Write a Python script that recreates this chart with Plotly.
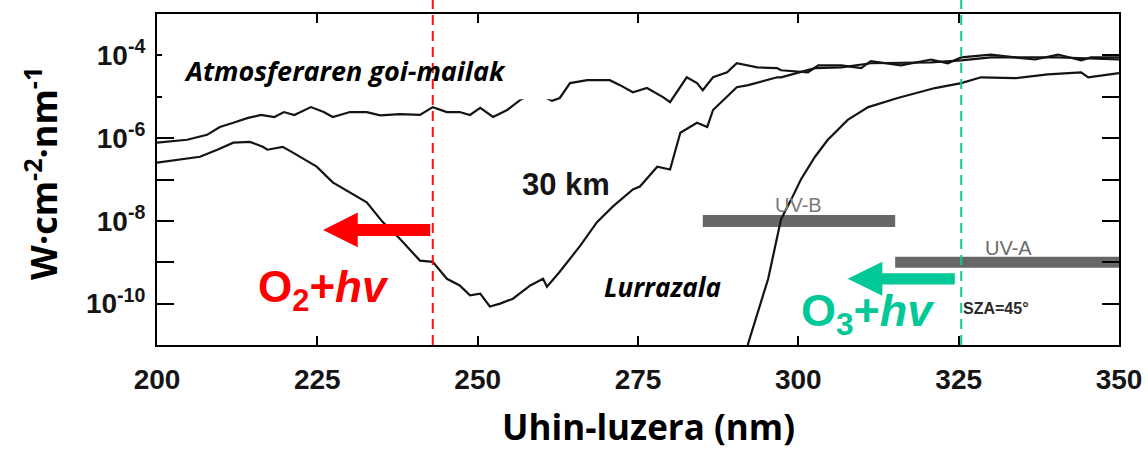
import numpy as np
import plotly.graph_objects as go

# ---------------- data ----------------
# wavelength (nm) and log10 of spectral irradiance (W cm-2 nm-1)
toa_nm = [200, 204.7, 207.8, 209.8, 211.9, 214.2, 216.2, 218.3, 219.8, 221.4,
          224.0, 226.0, 227.4, 230.1, 232.7, 234.8, 237.9, 241.0, 243.0, 245.2,
          247.2, 248.8, 250.4, 252.4, 254.6, 256.6, 258.9, 261.6, 262.8, 264.4,
          267.1, 270.6, 272.2, 274.2, 276.4, 278.9, 280.0, 281.6, 282.6, 284.2,
          285.1, 286.7, 288.9, 290.4, 293.6, 296.7, 297.3, 301.5, 303.1, 306.7,
          309.8, 311.3, 316.0, 320.7, 323.3, 325.4, 330.0, 333.8, 336.9, 340.5,
          344.1, 345.6, 350]
toa_exp = [-6.11, -6.04, -5.92, -5.73, -5.63, -5.51, -5.44, -5.49, -5.37, -5.44,
           -5.25, -5.37, -5.49, -5.37, -5.37, -5.45, -5.42, -5.44, -5.25, -5.37,
           -5.37, -5.44, -5.27, -5.49, -5.32, -5.08, -4.89, -5.10, -5.03, -4.67,
           -4.60, -4.60, -4.72, -4.89, -4.79, -5.01, -5.13, -4.77, -4.53, -4.67,
           -4.84, -4.53, -4.41, -4.19, -4.29, -4.31, -4.36, -4.41, -4.24, -4.24,
           -4.31, -4.14, -4.24, -4.10, -4.19, -4.05, -3.98, -4.05, -4.10, -3.98,
           -4.12, -4.05, -4.05]

km30_nm = [200, 203.6, 206.7, 209.4, 211.9, 214.5, 216.5, 217.2, 219.6, 221.2,
           222.3, 224.9, 227.4, 230.1, 232.7, 235.2, 237.9, 241.0, 243.0, 245.2,
           247.2, 248.8, 250.4, 251.9, 253.5, 255.5, 258.2, 260.2, 260.8, 262.8,
           264.4, 266.0, 268.6, 271.1, 274.2, 275.3, 278.0, 280.0, 281.6, 284.2,
           285.8, 286.7, 290.4, 292.2, 296.7, 297.3, 302.6, 306.7, 311.3, 320.7,
           325.4, 330.0, 340.5, 350]
km30_exp = [-6.59, -6.52, -6.45, -6.28, -6.11, -6.09, -6.21, -6.28, -6.21, -6.35,
            -6.45, -6.69, -7.07, -7.31, -7.55, -8.03, -8.44, -8.96, -8.99, -9.40,
            -9.56, -9.80, -9.76, -10.07, -10.00, -9.88, -9.56, -9.40, -9.59, -9.23,
            -8.92, -8.60, -8.03, -7.65, -7.24, -7.17, -6.69, -6.76, -5.87, -5.63,
            -5.73, -5.32, -4.77, -4.72, -4.53, -4.53, -4.31, -4.29, -4.19, -4.17,
            -4.12, -4.05, -4.05, -4.10]

surf_nm = [291.8, 292.2, 295.3, 297.3, 298.9, 300.4, 302.6, 304.6, 307.7, 310.9,
           315.5, 318.2, 321.3, 325.4, 328.5, 333.8, 338.9, 344.1, 345.2, 350]
surf_exp = [-11.3, -10.95, -9.40, -7.96, -7.48, -7.00, -6.45, -6.04, -5.56, -5.25,
            -5.03, -4.91, -4.79, -4.67, -4.53, -4.55, -4.46, -4.41, -4.53, -4.43]

uvb_nm = [285.1, 315.1]
uvb_val = [1e-8, 1e-8]
uva_nm = [315.1, 350]
uva_val = [1e-9, 1e-9]

x_ticks = [200, 225, 250, 275, 300, 325, 350]
y_tick_exp = [-11, -10, -9, -8, -7, -6, -5, -4, -3]
y_label_exp = [-10, -8, -6, -4]

o2_limit_nm = 243.0
o3_limit_nm = 325.4

X_RANGE = [200, 350]
Y_RANGE = [-11, -3]

# ---------------- figure ----------------
fig = go.Figure()

fig.add_trace(go.Scatter(x=uvb_nm, y=uvb_val, mode="lines",
                         line=dict(color="#676767", width=12), hoverinfo="skip"))
fig.add_trace(go.Scatter(x=uva_nm, y=uva_val, mode="lines",
                         line=dict(color="#676767", width=11), hoverinfo="skip"))

for xs, es in [(toa_nm, toa_exp), (km30_nm, km30_exp), (surf_nm, surf_exp)]:
    fig.add_trace(go.Scatter(x=xs, y=10 ** np.array(es), mode="lines",
                             line=dict(color="#141414", width=2.2)))


def pxx(nm):
    return (nm - X_RANGE[0]) / (X_RANGE[1] - X_RANGE[0])


def pyy(e):
    return (e - Y_RANGE[0]) / (Y_RANGE[1] - Y_RANGE[0])


def arrow_path(tail, tip, yc, head_len, head_half, shaft_half):
    pts = [(tail, yc + shaft_half), (tip + head_len, yc + shaft_half),
           (tip + head_len, yc + head_half), (tip, yc),
           (tip + head_len, yc - head_half), (tip + head_len, yc - shaft_half),
           (tail, yc - shaft_half)]
    s = "M " + " L ".join(f"{pxx(a):.5f},{pyy(b):.5f}" for a, b in pts) + " Z"
    return s


shapes = []
# white label box (upper)
shapes.append(dict(type="rect", xref="paper", yref="paper", layer="above",
                   x0=pxx(200.8), x1=pxx(261.6), y0=pyy(-5.06), y1=pyy(-3.4),
                   fillcolor="white", line=dict(width=0)))
# dashed threshold lines
shapes.append(dict(type="line", xref="paper", yref="paper", layer="above",
                   x0=pxx(o2_limit_nm), x1=pxx(o2_limit_nm), y0=0, y1=1.045,
                   line=dict(color="#ff1010", width=2, dash="10px,6px")))
shapes.append(dict(type="line", xref="paper", yref="paper", layer="above",
                   x0=pxx(o3_limit_nm), x1=pxx(o3_limit_nm), y0=0, y1=1.045,
                   line=dict(color="#10c896", width=2, dash="10px,6px")))
# arrows
shapes.append(dict(type="path", xref="paper", yref="paper", layer="above",
                   path=arrow_path(242.6, 225.9, -8.22, 5.4, 0.42, 0.145),
                   fillcolor="#ff0000", line=dict(width=0)))
shapes.append(dict(type="path", xref="paper", yref="paper", layer="above",
                   path=arrow_path(324.4, 307.7, -9.40, 5.4, 0.41, 0.135),
                   fillcolor="#00c896", line=dict(width=0)))

tick_font = dict(family="Liberation Sans Narrow, Arial Narrow, Liberation Sans, Arial",
                 size=28, color="#151515", weight="bold")

ann = []
ann.append(dict(x=203.9, y=-4.36, xref="x", yref="y", xanchor="left", yanchor="middle",
                text="<b><i>Atmosferaren goi-mailak</i></b>", showarrow=False,
                font=dict(family="Open Sans", size=27, color="black")))
ann.append(dict(x=278.8, y=-9.59, xref="x", yref="y", xanchor="center", yanchor="middle",
                text="<b><i>Lurrazala</i></b>", showarrow=False,
                font=dict(family="Open Sans", size=26, color="black")))
ann.append(dict(x=263.8, y=-7.12, xref="x", yref="y", xanchor="center", yanchor="middle",
                text="<b>30 km</b>", showarrow=False,
                font=dict(family="Liberation Sans", size=31, color="#151515")))
ann.append(dict(x=300.1, y=-7.62, xref="x", yref="y", xanchor="center", yanchor="middle",
                text="UV-B", showarrow=False,
                font=dict(family="Liberation Sans", size=20, color="#7a7a7a")))
ann.append(dict(x=332.7, y=-8.65, xref="x", yref="y", xanchor="center", yanchor="middle",
                text="UV-A", showarrow=False,
                font=dict(family="Liberation Sans", size=20, color="#6a6a6a")))
ann.append(dict(x=325.3, y=-10.12, xref="x", yref="y", xanchor="left", yanchor="middle",
                text="<b>SZA=45°</b>", showarrow=False,
                font=dict(family="Liberation Sans Narrow, Liberation Sans", size=16,
                          color="#2a2a2a")))
ann.append(dict(x=225.9, y=-9.66, xref="x", yref="y", xanchor="center", yanchor="middle",
                text="<b>O<sub>2</sub>+<i>hv</i></b>", showarrow=False,
                font=dict(family="Liberation Sans", size=44, color="#ff0000")))
ann.append(dict(x=310.9, y=-10.25, xref="x", yref="y", xanchor="center", yanchor="middle",
                text="<b>O<sub>3</sub>+<i>hv</i></b>", showarrow=False,
                font=dict(family="Liberation Sans", size=45, color="#00c896")))
# axis titles
ann.append(dict(x=0.5105, y=-0.246, xref="paper", yref="paper", xanchor="center",
                yanchor="middle", text="<b>Uhin-luzera (nm)</b>", showarrow=False,
                font=dict(family="Open Sans", size=35, color="black")))
ann.append(dict(x=-0.1195, y=0.517, xref="paper", yref="paper", xanchor="center",
                yanchor="middle", textangle=-90,
                text="<b>W·cm<sup>-2</sup>·nm<sup>-1</sup></b>", showarrow=False,
                font=dict(family="Open Sans", size=36, color="black")))

fig.update_layout(
    width=1148, height=450, autosize=False,
    margin=dict(l=157, r=29, t=14, b=105, autoexpand=False),
    plot_bgcolor="white", paper_bgcolor="white",
    showlegend=False,
    shapes=shapes, annotations=ann,
    xaxis=dict(range=X_RANGE, tickmode="array", tickvals=x_ticks,
               ticktext=[str(v) for v in x_ticks], automargin=False,
               ticks="inside", ticklen=9, tickwidth=2, tickcolor="black",
               showline=True, linecolor="black", linewidth=2, mirror="allticks",
               showgrid=False, zeroline=False, tickfont=tick_font,
               ticklabelstandoff=8),
    yaxis=dict(type="log", range=Y_RANGE, tickmode="array", automargin=False,
               tickvals=[10.0 ** e for e in y_tick_exp],
               ticktext=[(f"10<sup>{e}</sup>" if e in y_label_exp else "") for e in y_tick_exp],
               ticks="inside", ticklen=17, tickwidth=2, tickcolor="black",
               showline=True, linecolor="black", linewidth=2, mirror="allticks",
               showgrid=False, zeroline=False, tickfont=tick_font,
               ticklabelstandoff=4),
)

fig.write_html("out.html", config={"displayModeBar": False},
               post_script="document.body.style.margin='0';")
